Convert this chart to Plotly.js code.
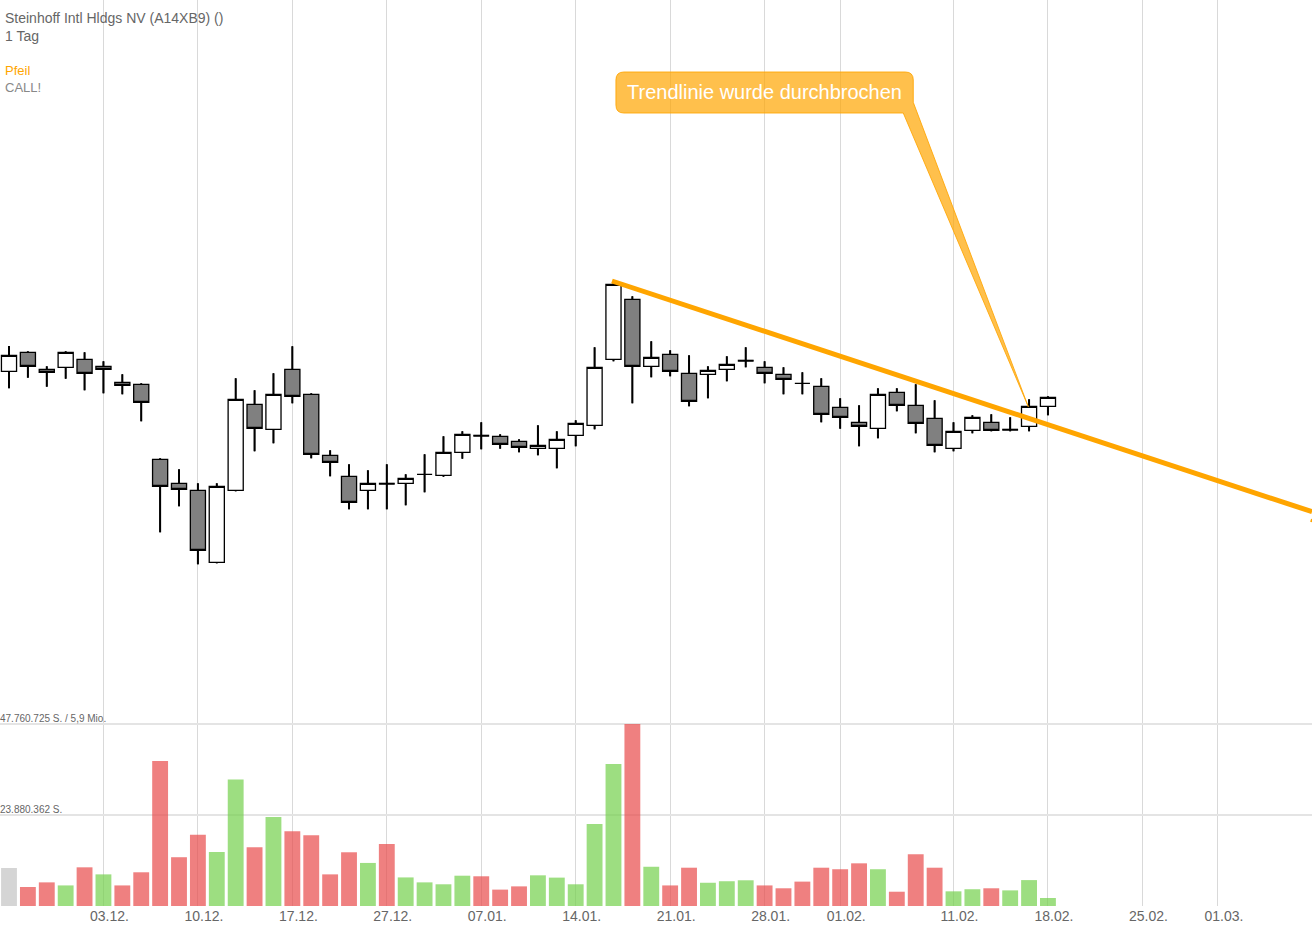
<!DOCTYPE html>
<html><head><meta charset="utf-8">
<script src="https://cdn.plot.ly/plotly-3.0.1.min.js"></script>
<style>html,body{margin:0;padding:0;background:#fff;overflow:hidden}#c{width:1312px;height:927px}</style>
</head><body><div id="c"></div>
<script>
// Candle values, in 1/10000 EUR scale units
const opens = [628.7,647.7,630.7,632.7,640.7,633.7,617.7,615.7,540.7,516.7,509.7,437.7,509.7,595.7,570.7,630.7,605.7,544.7,523.7,509.7,516.3,516.7,525.7,524.7,547.7,564.3,563.7,558.7,551.7,551.7,564.7,574.7,640.7,700.7,633.7,645.7,626.7,625.7,630.7,639.3,632.7,625.7,616.7,613.7,592.7,577.7,571.7,607.7,594.7,581.7,551.7,569.7,577.7,570.3,573.7,593.7];
const highs = [654,648.7,633.7,648.7,647.7,638.7,625.7,616.7,541.7,530.7,516.7,516.7,621.7,609.7,626.7,653.7,606.7,549.7,535.7,529.7,535.7,525.7,545.7,563.7,568.7,577.7,565.7,560.7,574.7,568.7,579.7,652.7,716.7,703.7,658.7,649.7,644.7,633.7,643.7,652.7,638.7,632.7,627.7,621.7,601.7,594.7,611.7,611.7,615.7,599.7,577.7,584.7,585.7,582.7,600.7,603.7];
const lows = [611.7,622.3,613.3,621.3,609.7,606.7,605.7,578.7,467.7,493.7,435.7,436.7,508.7,548.7,556.7,596.7,541.7,523.7,490.7,490.7,490.7,494.7,507.7,523.3,541.3,550.7,551.3,547.7,544.7,531.7,553.7,570.7,638.7,596.7,622.7,623.7,593.7,601.7,618.7,632.7,616.7,605.7,605.7,577.7,571.3,553.7,561.7,588.7,566.7,547.7,548.7,566.7,568.7,568.7,568.7,584.7];
const closes = [644.7,633.7,627.7,647.7,626.7,630.7,614.7,597.7,513.7,510.7,449.7,513.7,600.7,571.7,605.7,603.7,545.7,537.7,497.7,516.7,516.3,521.7,525.7,547.7,565.7,564.3,555.7,552.7,554.7,560.7,576.7,632.7,715.7,633.7,642.7,628.7,598.7,629.7,635.7,639.3,626.7,620.7,616.7,585.7,582.7,573.7,605.7,594.7,576.7,554.7,568.7,582.7,569.7,570.3,593.7,602.7];
const heavyDoji = [20,25,39,53];
// Volume in million shares
const volumes = [9.97,4.99,6.2,5.4,10.15,8.3,5.4,8.85,38.05,12.8,18.7,14.2,33.2,15.4,23.35,19.6,18.55,8.3,14.1,11.3,16.3,7.5,6.2,5.7,7.95,7.8,4.3,5.15,8.05,7.45,5.7,21.5,37.25,47.76,10.3,5.4,10.05,6.1,6.5,6.75,5.4,4.65,6.4,10.05,9.65,11.2,9.65,3.75,13.55,10.05,3.85,4.4,4.65,4.1,6.8,2.1];
const volumeDirs = "nrrgrgrrrrrggrgrrrrgrggggrrrgggggrgrrgggrrrrrrgrrrggrggg";
// Date ticks
const tickIndex = [5,10,15,20,25,30,35,40,44,50,55,60,64];
const tickLabels = ["03.12.","10.12.","17.12.","27.12.","07.01.","14.01.","21.01.","28.01.","01.02.","11.02.","18.02.","25.02.","01.03."];
// Volume levels
const volLevels = [23.880362,47.760725];
const volLabels = ["23.880.362 S.","47.760.725 S. / 5,9 Mio."];
// Trend line and the cut-off arrow head at the right edge
const trendX = [31.92,68.98];
const trendY = [719,488.3];
const headX = [68.93,68.98];
const headY = [478,481];
// Callout
const calloutText = "Trendlinie wurde durchbrochen";
const callout = {left:32.13,right:47.87,top:928,bottom:887,rx:0.42,ry:8,tipX:53.96,tipY:593.3,wedgeLX:47.34,wedgeRY:897.7,textX:39.97,textY:908};
// Header
const headerLines = ["Steinhoff Intl Hldgs NV (A14XB9) ()","1 Tag","Pfeil","CALL!"];

const xs = opens.map((_,i)=>i);
const FONT = '"Liberation Sans",Arial,sans-serif';
const BLACK = '#000';
const c = callout;
const calloutPath = `M ${c.left+c.rx} ${c.top} L ${c.right-c.rx} ${c.top} Q ${c.right} ${c.top} ${c.right} ${c.top-c.ry} L ${c.right} ${c.wedgeRY} L ${c.tipX} ${c.tipY} L ${c.wedgeLX} ${c.bottom} L ${c.left+c.rx} ${c.bottom} Q ${c.left} ${c.bottom} ${c.left} ${c.bottom+c.ry} L ${c.left} ${c.top-c.ry} Q ${c.left} ${c.top} ${c.left+c.rx} ${c.top} Z`;

const colorOf = {n:'rgba(190,190,190,0.65)',r:'rgba(232,74,74,0.7)',g:'rgba(116,208,76,0.7)'};
const traces = [
 {type:'candlestick',x:xs,open:opens,high:highs,low:lows,close:closes,xaxis:'x',yaxis:'y',whiskerwidth:0,
  increasing:{line:{color:BLACK,width:1.3},fillcolor:'#ffffff'},
  decreasing:{line:{color:BLACK,width:1.3},fillcolor:'#808080'},hoverinfo:'skip',showlegend:false},
 {type:'scatter',mode:'lines',
  x:xs.flatMap(i=>[i,i,null,i,i,null]),
  y:xs.flatMap(i=>[highs[i],Math.max(opens[i],closes[i]),null,Math.min(opens[i],closes[i]),lows[i],null]),
  xaxis:'x',yaxis:'y',line:{color:BLACK,width:2},hoverinfo:'skip',showlegend:false},
 {type:'scatter',mode:'lines',
  x:heavyDoji.flatMap(i=>[i-0.42,i+0.42,null]),y:heavyDoji.flatMap(i=>[opens[i],closes[i],null]),
  xaxis:'x',yaxis:'y',line:{color:BLACK,width:2},hoverinfo:'skip',showlegend:false},
 {type:'scatter',mode:'lines',x:trendX,y:trendY,xaxis:'x',yaxis:'y',line:{color:'#ffa500',width:5},hoverinfo:'skip',showlegend:false},
 {type:'scatter',mode:'lines',x:headX,y:headY,xaxis:'x',yaxis:'y',line:{color:'#ffa500',width:2},hoverinfo:'skip',showlegend:false},
 {type:'bar',x:xs,y:volumes,xaxis:'x',yaxis:'y2',width:0.84,marker:{color:volumeDirs.split('').map(d=>colorOf[d]),line:{width:0}},hoverinfo:'skip',showlegend:false}
];
const hdr = (t,py,col,size)=>({text:t,xref:'paper',yref:'paper',x:4/1312,y:1-py/906,xanchor:'left',yanchor:'middle',showarrow:false,align:'left',borderpad:0,font:{family:FONT,size:size,color:col}});
const layout = {
 width:1312,height:927,margin:{l:0,r:0,t:0,b:21,pad:0},paper_bgcolor:'#fff',plot_bgcolor:'#fff',showlegend:false,hovermode:false,
 boxmode:'group',boxgap:0.2,boxgroupgap:0,bargap:0.16,
 xaxis:{type:'linear',range:[-9/18.89,(1312-9)/18.89],tickmode:'array',tickvals:tickIndex,ticktext:tickLabels,ticklabelshift:6,ticklabelstandoff:0,
   tickfont:{family:FONT,size:14,color:'#666'},showgrid:true,gridcolor:'#d9d9d9',gridwidth:1,zeroline:false,showline:false,ticks:'',rangeslider:{visible:false},fixedrange:true},
 yaxis:{domain:[0,1],range:[94,1000],showgrid:false,zeroline:false,showline:false,showticklabels:false,ticks:'',fixedrange:true},
 yaxis2:{domain:[0,186/906],range:[0,47.76*186/182],tickmode:'array',tickvals:volLevels,showticklabels:false,showgrid:true,gridcolor:'#e4e4e4',gridwidth:1.5,zeroline:false,showline:false,ticks:'',anchor:'x',fixedrange:true},
 shapes:[{type:'path',xref:'x',yref:'y',path:calloutPath,fillcolor:'rgba(255,165,0,0.7)',line:{color:'rgba(255,165,0,0.85)',width:1},layer:'above'}],
 annotations:[
  hdr(headerLines[0],18,'#666',14),hdr(headerLines[1],36,'#666',14),hdr(headerLines[2],71,'#ffa500',13),hdr(headerLines[3],87,'#888',13),
  {text:calloutText,xref:'x',yref:'y',x:c.textX,y:c.textY,xanchor:'center',yanchor:'middle',showarrow:false,font:{family:FONT,size:20,color:'#fff'}},
  ...volLevels.map((v,i)=>({text:volLabels[i],xref:'paper',yref:'y2',x:0,y:v,yshift:-1,xshift:-1,xanchor:'left',yanchor:'bottom',showarrow:false,borderpad:0,font:{family:FONT,size:10,color:'#666'}}))
 ]
};
Plotly.newPlot('c',traces,layout,{displayModeBar:false,staticPlot:true});
</script></body></html>
